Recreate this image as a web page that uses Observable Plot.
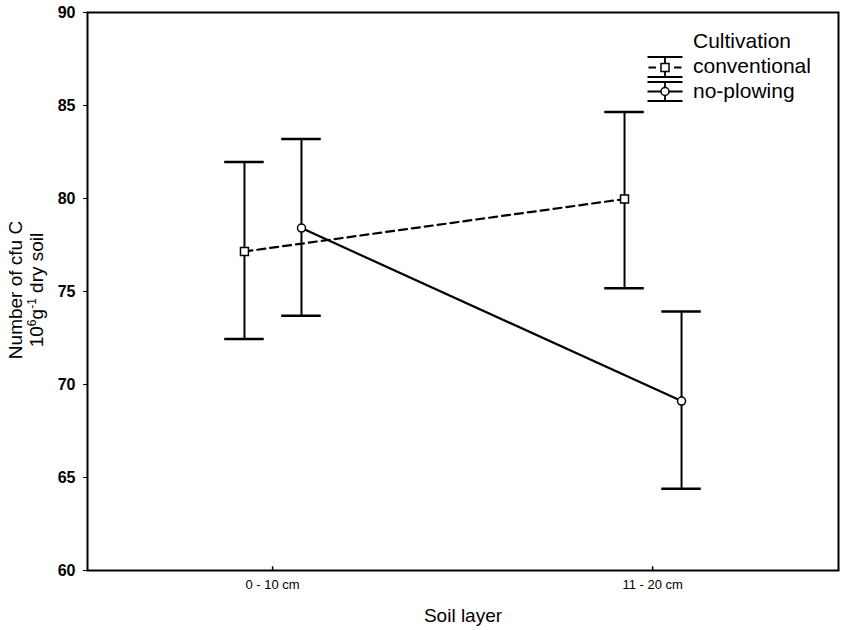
<!DOCTYPE html>
<html><head><meta charset="utf-8">
<script src="https://cdn.jsdelivr.net/npm/d3@7"></script>
<script src="https://cdn.jsdelivr.net/npm/@observablehq/plot@0.6"></script>
<style>body{margin:0;background:#fff;} #chart svg{display:block;}</style>
</head><body><div id="chart"></div>
<script>
// ---- data ----
const layers = ["0 - 10 cm", "11 - 20 cm"];
const seriesNames = ["conventional", "no-plowing"];
const conventionalMean = [77.15, 79.97];
const conventionalLow  = [72.45, 75.17];
const conventionalHigh = [81.96, 84.65];
const noPlowMean = [78.41, 69.11];
const noPlowLow  = [73.70, 64.40];
const noPlowHigh = [83.20, 73.92];
const yTicks = [60, 65, 70, 75, 80, 85, 90];

// ---- build rows ----
const dodge = {"conventional": -0.074, "no-plowing": 0.076};
const cap = 0.052;
function rowsFor(name, mean, low, high) {
  return layers.map((layer, i) => ({
    layer, series: name, pos: i + 1 + dodge[name],
    mean: mean[i], low: low[i], high: high[i]
  }));
}
const conv = rowsFor("conventional", conventionalMean, conventionalLow, conventionalHigh);
const noPlow = rowsFor("no-plowing", noPlowMean, noPlowLow, noPlowHigh);
const rows = conv.concat(noPlow);

const font = "'Liberation Sans', Arial, Helvetica, sans-serif";

const plot = Plot.plot({
  width: 845, height: 630,
  marginLeft: 87, marginRight: 7, marginTop: 12, marginBottom: 60,
  style: {fontFamily: font, background: "#fff", color: "#000"},
  x: {domain: [0.513, 2.489], label: null},
  y: {domain: [60, 90], label: null},
  marks: [
    Plot.ruleX(rows, {x: "pos", y1: "low", y2: "high", stroke: "#000", strokeWidth: 2}),
    Plot.ruleY(rows, {y: "high", x1: d => d.pos - cap, x2: d => d.pos + cap, stroke: "#000", strokeWidth: 2.5}),
    Plot.ruleY(rows, {y: "low", x1: d => d.pos - cap, x2: d => d.pos + cap, stroke: "#000", strokeWidth: 2.5}),
    Plot.line(conv, {x: "pos", y: "mean", stroke: "#000", strokeWidth: 2.2, strokeDasharray: "8,5"}),
    Plot.line(noPlow, {x: "pos", y: "mean", stroke: "#000", strokeWidth: 2.2}),
    Plot.dot(conv, {x: "pos", y: "mean", symbol: "square", r: 4.5, fill: "#fff", stroke: "#000", strokeWidth: 1.5}),
    Plot.dot(noPlow, {x: "pos", y: "mean", symbol: "circle", r: 4, fill: "#fff", stroke: "#000", strokeWidth: 1.5}),
    Plot.ruleX([1, 2], {y1: 60, y2: 60.2, stroke: "#000", strokeWidth: 1.5}),
    Plot.frame({stroke: "#000", strokeWidth: 2}),
    Plot.axisY({ticks: yTicks, tickSize: 4, tickPadding: 8, fontSize: 16, fontWeight: "bold", label: null, tickFormat: d => String(d)}),
    Plot.axisX({ticks: [1, 2], tickSize: 0, tickPadding: 9, fontSize: 13, label: null, tickFormat: d => layers[d - 1]})
  ]
});

document.getElementById("chart").appendChild(plot);

// ---- axis titles and legend ----
const svg = d3.select(plot);
const yt = svg.append("g").attr("font-family", font).attr("font-size", 19).attr("text-anchor", "middle")
  .attr("fill", "#000").attr("transform", "translate(0,290) rotate(-90)");
yt.append("text").attr("x", 0).attr("y", 22).text("Number of cfu C");
const t2 = yt.append("text").attr("x", 0).attr("y", 43);
t2.append("tspan").text("10");
t2.append("tspan").attr("baseline-shift", "super").attr("font-size", 12).text("6");
t2.append("tspan").text("g");
t2.append("tspan").attr("baseline-shift", "super").attr("font-size", 12).text("-1");
t2.append("tspan").text(" dry soil");

svg.append("text").attr("x", 463).attr("y", 622).attr("text-anchor", "middle").attr("fill", "#000")
  .attr("font-family", font).attr("font-size", 19).text("Soil layer");

const lg = svg.append("g").attr("stroke", "#000").attr("fill", "none");
const lx = 665, lw = 17.5;
[[57, 77, 67.5, "square"], [82, 101, 91.5, "circle"]].forEach(([top, bot, mid, sym]) => {
  lg.append("line").attr("x1", lx - lw).attr("x2", lx + lw).attr("y1", top).attr("y2", top).attr("stroke-width", 2);
  lg.append("line").attr("x1", lx - lw).attr("x2", lx + lw).attr("y1", bot).attr("y2", bot).attr("stroke-width", 2);
  lg.append("line").attr("x1", lx).attr("x2", lx).attr("y1", top).attr("y2", bot).attr("stroke-width", 1.8);
  if (sym === "square") {
    lg.append("line").attr("x1", lx - lw + 1).attr("x2", lx - 9).attr("y1", mid).attr("y2", mid).attr("stroke-width", 2);
    lg.append("line").attr("x1", lx + 9).attr("x2", lx + lw - 1).attr("y1", mid).attr("y2", mid).attr("stroke-width", 2);
    lg.append("rect").attr("x", lx - 4).attr("y", mid - 4).attr("width", 8).attr("height", 8).attr("fill", "#fff").attr("stroke-width", 1.5);
  } else {
    lg.append("line").attr("x1", lx - lw).attr("x2", lx + lw).attr("y1", mid).attr("y2", mid).attr("stroke-width", 2);
    lg.append("circle").attr("cx", lx).attr("cy", mid).attr("r", 4).attr("fill", "#fff").attr("stroke-width", 1.5);
  }
});
const lt = svg.append("g").attr("font-family", font).attr("font-size", 21).attr("fill", "#000").attr("text-anchor", "start");
lt.append("text").attr("x", 693).attr("y", 48).text("Cultivation");
lt.append("text").attr("x", 693).attr("y", 73).text(seriesNames[0]);
lt.append("text").attr("x", 693).attr("y", 98).text(seriesNames[1]);
</script>
</body></html>
